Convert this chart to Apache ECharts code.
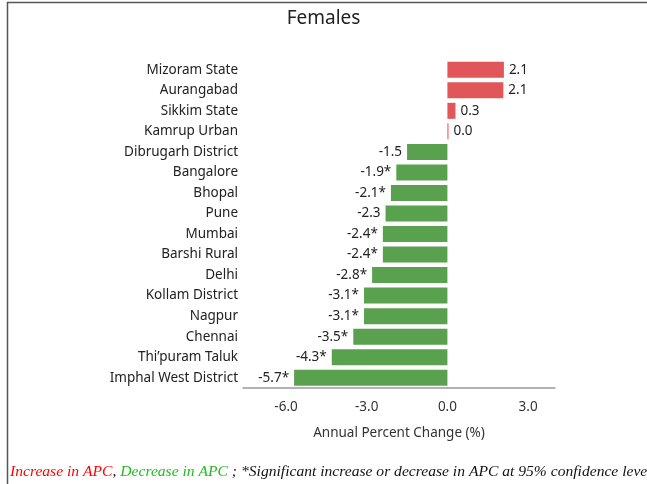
<!DOCTYPE html>
<html><head><meta charset="utf-8">
<script src="https://cdn.jsdelivr.net/npm/echarts@6/dist/echarts.min.js"></script>
<style>html,body{margin:0;padding:0;background:#fff}#c{width:647px;height:484px}</style>
</head><body><div id="c"></div>
<script>
const categories = ["Mizoram State","Aurangabad","Sikkim State","Kamrup Urban","Dibrugarh District","Bangalore","Bhopal","Pune","Mumbai","Barshi Rural","Delhi","Kollam District","Nagpur","Chennai","Thi\u2019puram Taluk","Imphal West District"];
const values = [2.1, 2.08, 0.3, 0.04, -1.5, -1.9, -2.1, -2.3, -2.4, -2.4, -2.8, -3.1, -3.1, -3.5, -4.3, -5.7];
const significant = [false,false,false,false,false,true,true,false,true,true,true,true,true,true,true,true];
const tickLabels = [-6, -3, 0, 3];
const RED = '#e15759', GREEN = '#59a14f';
const FONT = 'Noto Sans';

const chart = echarts.init(document.getElementById('c'), null, {renderer:'canvas'});
const data = values.map((v,i)=>({
  value: v,
  itemStyle: {color: v >= 0 ? RED : GREEN},
  label: {position: v >= 0 ? 'right' : 'left'}
}));
chart.setOption({
  animation:false,
  title:{text:'Females', left:'center', top:4, textStyle:{fontFamily:FONT, fontSize:19, fontWeight:'normal', color:'#222'}},
  grid:{left:243, right:92, top:59.5, bottom:96, containLabel:false},
  xAxis:{type:'value', min:-7.6, max:4.0, interval:0.2,
    axisLine:{show:true, lineStyle:{color:'#999', width:1.5}},
    axisTick:{show:false}, splitLine:{show:false},
    axisLabel:{fontFamily:FONT, fontSize:13.5, color:'#333', margin:12, showMinLabel:true, showMaxLabel:true,
      formatter:function(v){ const r = Math.round(v*10)/10; for (const t of tickLabels){ if (Math.abs(r-t)<1e-6) return t.toFixed(1);} return ''; }},
    name:'Annual Percent Change (%)', nameLocation:'middle', nameGap:38,
    nameTextStyle:{fontFamily:FONT, fontSize:13.5, color:'#333'}
  },
  yAxis:{type:'category', data:categories, inverse:true,
    axisLine:{show:false}, axisTick:{show:false},
    axisLabel:{fontFamily:FONT, fontSize:13.5, color:'#222', margin:5}},
  series:[{type:'bar', data:data, barCategoryGap:'22%',
    label:{show:true, fontFamily:FONT, fontSize:13.5, color:'#222', distance:5,
      formatter:function(p){ return p.value.toFixed(1) + (significant[p.dataIndex]?'*':''); }}}],
  graphic:[
    {type:'rect', shape:{x:7.5, y:2.5, width:700, height:600}, style:{fill:null, stroke:'#555', lineWidth:1.5}, silent:true},
    {type:'text', left:10, top:464, style:{
      text:'{r|Increase in APC}{b|, }{g|Decrease in APC}{b| ; *Significant increase or decrease in APC at 95% confidence level}',
      rich:{
        r:{fontFamily:'Liberation Serif', fontStyle:'italic', fontSize:15.6, fill:'#ff0000'},
        g:{fontFamily:'Liberation Serif', fontStyle:'italic', fontSize:15.6, fill:'#22bb22'},
        b:{fontFamily:'Liberation Serif', fontStyle:'italic', fontSize:15.6, fill:'#111'}
      }}}
  ]
});
</script></body></html>
